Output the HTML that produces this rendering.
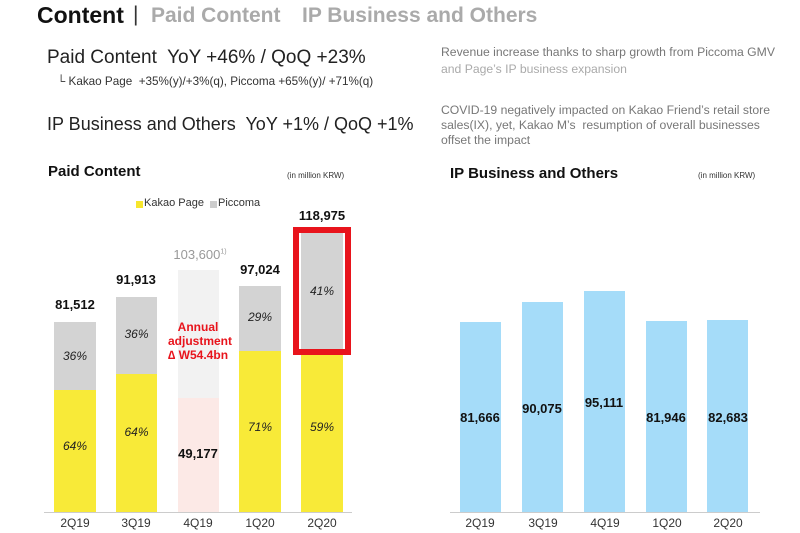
<!DOCTYPE html>
<html><head><meta charset="utf-8"><style>
body{margin:0;width:800px;height:533px;background:#fff;position:relative;overflow:hidden;font-family:"Liberation Sans","DejaVu Sans",sans-serif;}
.a{position:absolute;white-space:nowrap;}
.b{position:absolute;}
.c{text-align:center;}
.it{font-style:italic;font-size:12px;color:#222;}
.v{font-weight:bold;font-size:13px;color:#111;}
.x{font-size:12px;color:#333;}
</style></head><body>
<div class="a" style="left:37px;top:2px;font-size:23px;font-weight:bold;color:#111;">Content</div>
<div class="a" style="left:133px;top:3px;font-size:21px;color:#333;">|</div>
<div class="a" style="left:151px;top:4px;font-size:21px;font-weight:bold;color:#aaa;">Paid Content</div>
<div class="a" style="left:302px;top:4px;font-size:21px;font-weight:bold;color:#aaa;">IP Business and Others</div>
<div class="a" style="left:47px;top:47px;font-size:19px;color:#222;">Paid Content&nbsp; YoY +46% / QoQ +23%</div>
<div class="a" style="left:57px;top:75px;font-size:11.7px;color:#333;">└ Kakao Page&nbsp; +35%(y)/+3%(q), Piccoma +65%(y)/ +71%(q)</div>
<div class="a" style="left:47px;top:114px;font-size:18px;color:#222;">IP Business and Others&nbsp; YoY +1% / QoQ +1%</div>
<div class="a" style="left:441px;top:44px;font-size:12.2px;color:#777;line-height:17px;">Revenue increase thanks to sharp growth from Piccoma GMV<br><span style="color:#aaa">and Page’s IP business expansion</span></div>
<div class="a" style="left:441px;top:103px;font-size:12.2px;color:#777;line-height:15px;">COVID-19 negatively impacted on Kakao Friend’s retail store<br>sales(IX), yet, Kakao M’s&nbsp; resumption of overall businesses<br>offset the impact</div>
<div class="a" style="left:48px;top:163px;font-size:15px;font-weight:bold;color:#111;">Paid Content</div>
<div class="a" style="left:287px;top:171px;font-size:8px;color:#333;">(in million KRW)</div>
<div class="a" style="left:450px;top:165px;font-size:15px;font-weight:bold;color:#111;">IP Business and Others</div>
<div class="a" style="left:698px;top:171px;font-size:8px;color:#333;">(in million KRW)</div>
<div class="b" style="left:136px;top:201px;width:7px;height:7px;background:#f7e62d"></div>
<div class="a" style="left:144px;top:197px;font-size:11px;color:#333;">Kakao Page</div>
<div class="b" style="left:210px;top:201px;width:7px;height:7px;background:#ccc"></div>
<div class="a" style="left:218px;top:197px;font-size:11px;color:#333;">Piccoma</div>
<div class="b" style="left:54px;top:322px;width:42px;height:68px;background:#d3d3d3"></div>
<div class="b" style="left:54px;top:390px;width:42px;height:122px;background:#f8ea38"></div>
<div class="b" style="left:116px;top:297px;width:41px;height:77px;background:#d3d3d3"></div>
<div class="b" style="left:116px;top:374px;width:41px;height:138px;background:#f8ea38"></div>
<div class="b" style="left:178px;top:270px;width:41px;height:128px;background:#f2f2f2"></div>
<div class="b" style="left:178px;top:398px;width:41px;height:114px;background:#fce9e6"></div>
<div class="b" style="left:239px;top:286px;width:42px;height:65px;background:#d3d3d3"></div>
<div class="b" style="left:239px;top:351px;width:42px;height:161px;background:#f8ea38"></div>
<div class="b" style="left:301px;top:232px;width:42px;height:123px;background:#d3d3d3"></div>
<div class="b" style="left:301px;top:355px;width:42px;height:157px;background:#f8ea38"></div>
<div class="b" style="left:293px;top:227px;width:46px;height:116px;border:6px solid #e8141c"></div>
<div class="b" style="left:44px;top:512px;width:308px;height:1px;background:#ccc"></div>
<div class="a c v" style="left:40px;top:297px;width:70px;">81,512</div>
<div class="a c v" style="left:101px;top:272px;width:70px;">91,913</div>
<div class="a c" style="left:160px;top:247px;width:80px;font-size:13px;color:#999;">103,600<sup style="font-size:7px">1)</sup></div>
<div class="a c v" style="left:225px;top:262px;width:70px;">97,024</div>
<div class="a c v" style="left:287px;top:208px;width:70px;">118,975</div>
<div class="a c" style="left:168px;top:320px;width:60px;font-size:12px;font-weight:bold;color:#e8141c;line-height:14px;">Annual<br>adjustment<br>∆ W54.4bn</div>
<div class="a c v" style="left:163px;top:446px;width:70px;">49,177</div>
<div class="a c it" style="left:54px;top:349px;width:42px;">36%</div>
<div class="a c it" style="left:54px;top:439px;width:42px;">64%</div>
<div class="a c it" style="left:116px;top:327px;width:41px;">36%</div>
<div class="a c it" style="left:116px;top:425px;width:41px;">64%</div>
<div class="a c it" style="left:239px;top:310px;width:42px;">29%</div>
<div class="a c it" style="left:239px;top:420px;width:42px;">71%</div>
<div class="a c it" style="left:301px;top:284px;width:42px;">41%</div>
<div class="a c it" style="left:301px;top:420px;width:42px;">59%</div>
<div class="a c x" style="left:45px;top:516px;width:60px;">2Q19</div>
<div class="a c x" style="left:106px;top:516px;width:60px;">3Q19</div>
<div class="a c x" style="left:168px;top:516px;width:60px;">4Q19</div>
<div class="a c x" style="left:230px;top:516px;width:60px;">1Q20</div>
<div class="a c x" style="left:292px;top:516px;width:60px;">2Q20</div>
<div class="b" style="left:460px;top:322px;width:41px;height:190px;background:#a5dcf9"></div>
<div class="b" style="left:522px;top:302px;width:41px;height:210px;background:#a5dcf9"></div>
<div class="b" style="left:584px;top:291px;width:41px;height:221px;background:#a5dcf9"></div>
<div class="b" style="left:646px;top:321px;width:41px;height:191px;background:#a5dcf9"></div>
<div class="b" style="left:707px;top:320px;width:41px;height:192px;background:#a5dcf9"></div>
<div class="b" style="left:450px;top:512px;width:310px;height:1px;background:#ccc"></div>
<div class="a c v" style="left:445px;top:410px;width:70px;">81,666</div>
<div class="a c v" style="left:507px;top:401px;width:70px;">90,075</div>
<div class="a c v" style="left:569px;top:395px;width:70px;">95,111</div>
<div class="a c v" style="left:631px;top:410px;width:70px;">81,946</div>
<div class="a c v" style="left:693px;top:410px;width:70px;">82,683</div>
<div class="a c x" style="left:450px;top:516px;width:60px;">2Q19</div>
<div class="a c x" style="left:513px;top:516px;width:60px;">3Q19</div>
<div class="a c x" style="left:575px;top:516px;width:60px;">4Q19</div>
<div class="a c x" style="left:637px;top:516px;width:60px;">1Q20</div>
<div class="a c x" style="left:698px;top:516px;width:60px;">2Q20</div>
</body></html>
